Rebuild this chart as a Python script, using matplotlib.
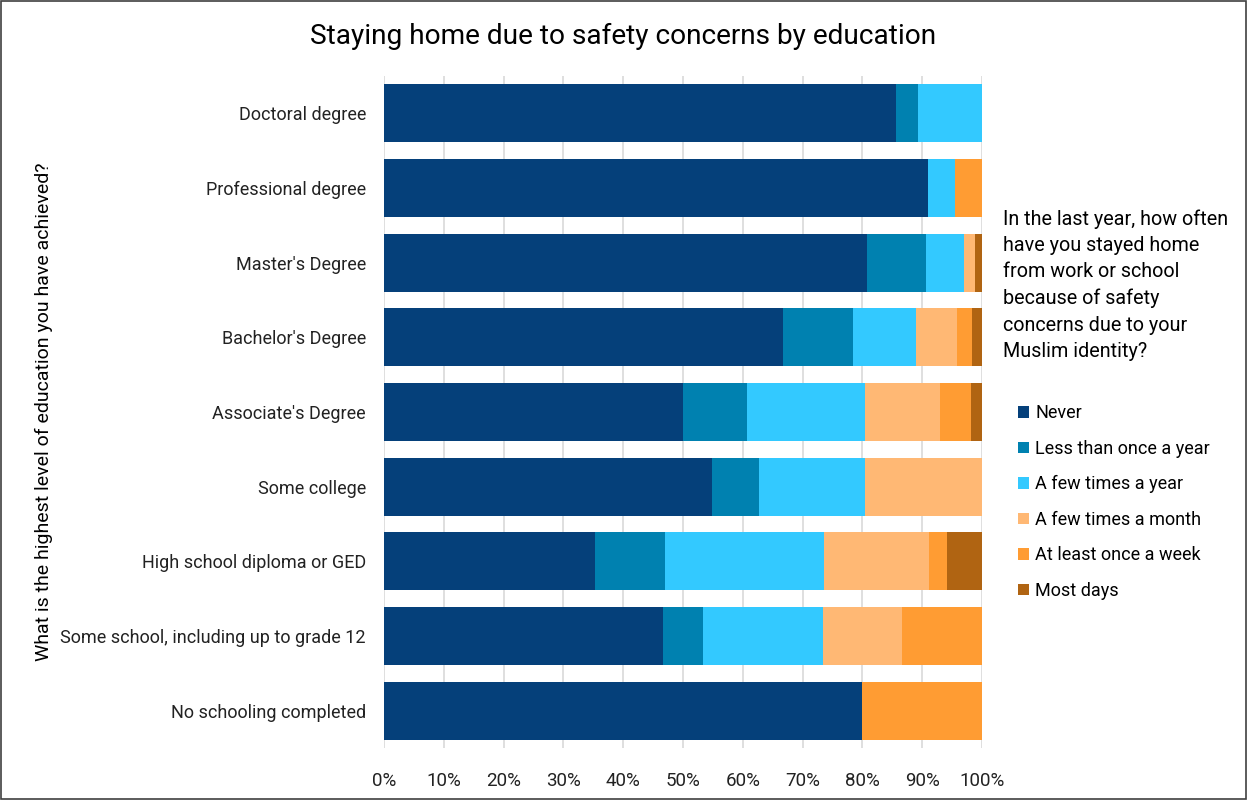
import numpy as np
import matplotlib.pyplot as plt
from matplotlib.ticker import PercentFormatter
from matplotlib.patches import Patch, Rectangle

plt.rcParams['font.family'] = ['Roboto', 'DejaVu Sans']

education = [
    'Doctoral degree',
    'Professional degree',
    "Master's Degree",
    "Bachelor's Degree",
    "Associate's Degree",
    'Some college',
    'High school diploma or GED',
    'Some school, including up to grade 12',
    'No schooling completed',
]

# share of respondents (%) per answer, same order as education
never         = [85.7, 90.9, 80.7, 66.7, 50.0, 54.8, 35.3, 46.7, 80.0]
less_than_yr  = [3.6,  0.0,  9.9,  11.7, 10.7, 7.9,  11.7, 6.7,  0.0]
few_per_year  = [10.7, 4.55, 6.4,  10.5, 19.7, 17.7, 26.5, 20.0, 0.0]
few_per_month = [0.0,  0.0,  1.8,  7.0,  12.5, 19.6, 17.7, 13.3, 0.0]
once_a_week   = [0.0,  4.55, 0.0,  2.4,  5.3,  0.0,  2.9,  13.3, 20.0]
most_days     = [0.0,  0.0,  1.2,  1.7,  1.8,  0.0,  5.9,  0.0,  0.0]

answers = ['Never', 'Less than once a year', 'A few times a year',
           'A few times a month', 'At least once a week', 'Most days']
colors = ['#05407A', '#0081B0', '#33C9FF', '#FFB874', '#FF9C33', '#B06412']
series = [never, less_than_yr, few_per_year, few_per_month, once_a_week, most_days]

fig = plt.figure(figsize=(12.47, 8), dpi=100)
ax = fig.add_axes([384 / 1247, 1 - 748 / 800, 598 / 1247, 672 / 800])

y = np.arange(len(education))
left = np.zeros(len(education))
for vals, col, name in zip(series, colors, answers):
    vals = np.array(vals)
    ax.barh(y, vals, left=left, height=0.78, color=col, label=name, zorder=3)
    left += vals

ax.set_xlim(0, 100)
ax.set_ylim(len(education) - 0.5, -0.5)
ax.set_xticks(np.arange(0, 101, 10))
ax.xaxis.set_major_formatter(PercentFormatter(decimals=0))
ax.set_yticks(y)
ax.set_yticklabels(education)
ax.tick_params(axis='both', length=0, colors='#222222')
ax.tick_params(axis='y', pad=13, labelsize=13)
ax.tick_params(axis='x', pad=17, labelsize=13.5)
ax.grid(axis='x', color='#D9D9D9', linewidth=1.2, zorder=0)
for s in ax.spines.values():
    s.set_visible(False)

ax.set_ylabel('What is the highest level of education you have achieved?',
              fontsize=14)
ax.yaxis.set_label_coords(-0.553, 0.5)

fig.text(0.5, 1 - 36 / 800, 'Staying home due to safety concerns by education',
         ha='center', va='center', fontsize=20.2)

fig.text(1003 / 1247, 1 - 209 / 800,
         'In the last year, how often\nhave you stayed home\nfrom work or school\n'
         'because of safety\nconcerns due to your\nMuslim identity?',
         ha='left', va='top', fontsize=14.2, linespacing=1.49)

handles = [Patch(facecolor=c, label=n) for c, n in zip(colors, answers)]
fig.legend(handles=handles, loc='upper left', bbox_to_anchor=(1002 / 1247, 1 - 388 / 800),
           frameon=False, fontsize=13, handlelength=0.6, handleheight=0.6,
           handletextpad=0.35, labelspacing=0.97)

fig.patches.append(Rectangle((0.0008, 0.0012), 0.9984, 0.9976, transform=fig.transFigure,
                             fill=False, edgecolor='#404040', linewidth=1.2))

fig.savefig('out.png', dpi=100)
